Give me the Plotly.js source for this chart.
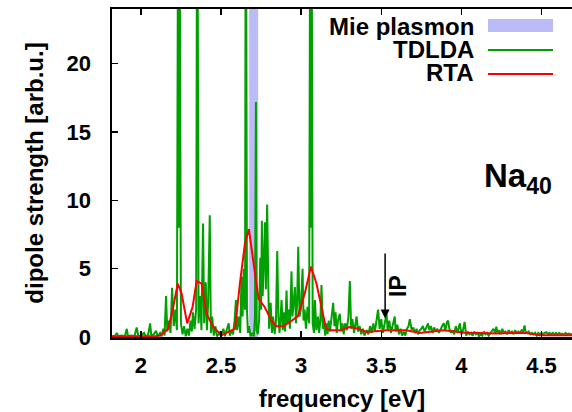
<!DOCTYPE html>
<html>
<head>
<meta charset="utf-8">
<script src="https://cdn.plot.ly/plotly-3.0.1.min.js"></script>
<style>html,body{margin:0;padding:0;background:#fff;}#chart{width:572px;height:412px;}</style>
</head>
<body>
<div id="chart"></div>
<script>
// ---- data ----
const tdldaX = [1.82,1.84,1.85,1.86,1.88,1.90,1.912,1.92,1.94,1.96,1.974,1.985,2.0,2.02,2.03,2.045,2.058,2.065,2.08,2.095,2.105,2.12,2.13,2.14,2.148,2.157,2.165,2.175,2.185,2.195,2.205,2.215,2.225,2.234,2.237,2.240,2.25,2.26,2.27,2.28,2.29,2.30,2.31,2.318,2.325,2.335,2.345,2.352,2.36,2.37,2.378,2.388,2.395,2.405,2.412,2.42,2.43,2.437,2.445,2.455,2.465,2.475,2.49,2.50,2.515,2.525,2.535,2.548,2.555,2.565,2.575,2.585,2.593,2.60,2.61,2.62,2.628,2.635,2.642,2.65,2.655,2.662,2.668,2.675,2.685,2.695,2.705,2.712,2.718,2.722,2.73,2.738,2.745,2.75,2.755,2.76,2.768,2.774,2.78,2.788,2.795,2.80,2.81,2.818,2.825,2.835,2.843,2.851,2.858,2.865,2.872,2.878,2.885,2.893,2.90,2.909,2.915,2.922,2.93,2.94,2.946,2.952,2.961,2.968,2.975,2.982,2.99,2.998,3.009,3.015,3.022,3.03,3.04,3.05,3.058,3.061,3.064,3.072,3.08,3.086,3.095,3.105,3.112,3.12,3.127,3.135,3.142,3.15,3.158,3.165,3.172,3.18,3.19,3.20,3.208,3.215,3.222,3.23,3.241,3.25,3.258,3.265,3.275,3.285,3.295,3.304,3.312,3.32,3.33,3.338,3.346,3.355,3.365,3.375,3.385,3.395,3.41,3.42,3.43,3.44,3.45,3.46,3.47,3.48,3.49,3.50,3.51,3.52,3.533,3.54,3.55,3.56,3.57,3.584,3.59,3.60,3.61,3.62,3.63,3.64,3.65,3.66,3.67,3.678,3.69,3.70,3.71,3.72,3.73,3.74,3.75,3.76,3.77,3.78,3.792,3.80,3.81,3.82,3.83,3.84,3.85,3.86,3.87,3.88,3.89,3.90,3.91,3.917,3.925,3.935,3.945,3.955,3.965,3.975,3.99,4.0,4.01,4.02,4.03,4.04,4.05,4.06,4.07,4.08,4.09,4.10,4.11,4.12,4.13,4.14,4.15,4.16,4.17,4.18,4.19,4.20,4.21,4.218,4.225,4.235,4.245,4.255,4.265,4.275,4.285,4.295,4.305,4.315,4.325,4.335,4.345,4.355,4.365,4.375,4.385,4.394,4.40,4.41,4.42,4.43,4.44,4.45,4.46,4.47,4.48,4.49,4.50,4.51,4.52,4.53,4.54,4.55,4.56,4.57,4.58,4.59,4.60,4.61,4.62,4.63,4.64,4.65,4.66,4.67,4.68,4.69];
const tdldaY = [0.05,0.1,0.3,0.05,0.1,0.05,0.6,0.05,0.1,0.05,0.7,0.05,0.1,0.3,0.05,0.15,1.0,0.1,0.2,0.45,0.05,0.3,0.05,0.6,0.1,3.0,0.4,1.2,0.3,3.6,0.8,2.0,0.5,40,8,40,1.0,0.2,0.8,0.05,0.6,0.1,1.2,0.4,1.8,0.6,2.0,40,1.0,3.0,0.5,8.3,1.0,4.0,0.5,2.5,8.9,0.3,1.5,0.1,0.8,0.05,0.3,0.05,0.6,0.05,0.5,1.0,0.1,0.5,0.2,1.2,2.7,0.5,1.5,0.3,4.4,1.5,5.0,2.0,40,2.0,0.3,0.8,0.05,0.3,0.05,1.5,17.2,0.5,0.2,1.3,5.8,2.0,8.5,3.0,5.8,8.4,3.5,9.7,4.0,0.6,2.5,0.3,1.5,0.2,1.2,6.3,1.5,0.3,1.5,2.7,0.5,1.8,0.4,3.4,1.0,2.0,0.6,4.8,1.5,2.5,3.65,1.0,2.5,6.6,1.5,2.0,5.0,1.2,2.0,0.6,2.2,1.0,40,8,40,1.0,0.3,2.7,0.5,1.5,0.3,1.2,3.8,0.6,1.3,0.1,1.0,0.2,1.2,0.4,1.5,2.5,0.8,1.8,0.3,1.2,1.7,0.4,1.0,0.2,1.0,0.5,1.5,4.1,0.6,1.3,0.3,1.0,1.5,0.4,0.8,0.2,0.6,0.1,0.5,0.2,0.8,0.3,1.0,0.4,1.2,2.0,0.6,1.3,0.3,1.0,1.7,0.5,1.2,0.3,0.8,1.5,0.4,0.9,0.2,0.6,0.1,0.4,0.1,0.6,0.8,1.3,0.5,0.7,0.3,0.6,0.2,0.5,0.6,0.8,0.4,0.7,1.0,0.5,0.8,0.3,0.7,0.4,0.6,0.3,0.6,0.8,1.0,0.5,1.1,1.2,0.6,0.3,0.5,0.2,0.8,0.3,1.0,0.2,0.5,1.1,0.1,0.4,0.2,0.3,0.1,0.4,0.2,0.3,0.05,0.2,0.1,0.4,0.2,0.3,0.1,0.3,0.4,0.6,0.3,0.75,0.3,0.5,0.2,0.6,0.3,0.4,0.2,0.5,0.3,0.4,0.2,0.5,0.3,0.4,0.3,0.5,0.4,0.85,0.4,0.3,0.4,0.2,0.3,0.2,0.3,0.1,0.3,0.2,0.3,0.2,0.3,0.35,0.2,0.3,0.2,0.3,0.2,0.3,0.15,0.3,0.2,0.25,0.15,0.3,0.2,0.25,0.2,0.2];

const rtaX = [1.82,1.90,2.00,2.06,2.10,2.12,2.171,2.202,2.23,2.254,2.289,2.323,2.348,2.379,2.41,2.452,2.504,2.545,2.587,2.618,2.649,2.674,2.705,2.734,2.772,2.816,2.847,2.888,2.93,2.98,3.023,3.061,3.096,3.127,3.156,3.19,3.241,3.304,3.356,3.408,3.47,3.533,3.616,3.657,3.74,3.886,3.948,4.031,4.114,4.218,4.322,4.405,4.488,4.69];
const rtaY = [0.03,0.03,0.04,0.05,0.07,0.1,0.6,2.2,3.9,3.2,1.0,2.2,4.1,3.9,1.7,0.73,0.12,0.37,0.6,3.9,6.8,7.9,5.35,2.8,2.2,1.2,0.78,0.78,1.1,1.53,3.2,5.15,3.9,2.2,0.6,0.49,0.49,0.73,0.6,0.37,0.44,0.49,0.49,0.49,0.3,0.49,0.42,0.3,0.3,0.25,0.3,0.3,0.12,0.12];

const mieBand = [2.676, 2.732];   // Mie plasmon energy window [eV]
const ipEnergy = 3.524;            // ionization potential [eV]
const ipArrow = [7.13, 1.36];      // arrow tail / tip height
const xTicks = [2, 2.5, 3, 3.5, 4, 4.5];
const xTickText = ['2', '2.5', '3', '3.5', '4', '4.5'];
const yTicks = [0, 5, 10, 15, 20];
const yTickText = ['0', '5', '10', '15', '20'];
const legendNames = ['Mie plasmon', 'TDLDA', 'RTA'];

// ---- styling ----
const FONT = 'Liberation Sans, Arial, Helvetica, sans-serif';
const green = '#00a000', red = '#ff0000', band = '#bbbbf8';
const W = 572, H = 412, mL = 112, mR = 0, mT = 9, mB = 75;
const pw = W - mL - mR, ph = H - mT - mB;
const px = v => (v - mL) / pw;          // pixel -> paper x
const py = v => (H - mB - v) / ph;      // pixel -> paper y

const traces = [
  {x: tdldaX, y: tdldaY, type: 'scatter', mode: 'lines', name: legendNames[1],
   line: {color: green, width: 2}, showlegend: false, hoverinfo: 'skip'},
  {x: rtaX, y: rtaY, type: 'scatter', mode: 'lines', name: legendNames[2],
   line: {color: red, width: 2}, showlegend: false, hoverinfo: 'skip'}
];

const bold = (size, color) => ({family: FONT, size: size, color: color || '#000', weight: 'bold'});

const legendRows = [26, 49, 73];
const annotations = [
  {xref: 'x', yref: 'y', axref: 'x', ayref: 'y', x: ipEnergy, y: ipArrow[1], ax: ipEnergy, ay: ipArrow[0],
   text: ' ', showarrow: true, arrowhead: 2, arrowsize: 1.2, arrowwidth: 1.5, arrowcolor: '#000'},
  {xref: 'paper', yref: 'paper', x: px(398), y: py(286), text: 'IP', textangle: -90,
   showarrow: false, font: bold(23), xanchor: 'center', yanchor: 'middle'},
  {xref: 'paper', yref: 'paper', x: px(482), y: py(178), text: 'Na<sub>40</sub>',
   showarrow: false, font: bold(33), xanchor: 'left', yanchor: 'middle'}
];
legendNames.forEach((n, i) => annotations.push({
  xref: 'paper', yref: 'paper', x: px(475), y: py(legendRows[i]), text: n, showarrow: false,
  font: bold(24), xanchor: 'right', yanchor: 'middle', borderpad: 0}));

const shapes = [
  {type: 'rect', xref: 'x', yref: 'paper', x0: mieBand[0], x1: mieBand[1], y0: 0, y1: 1,
   fillcolor: band, line: {width: 0}, layer: 'below'},
  {type: 'rect', xref: 'paper', yref: 'paper', x0: px(488), x1: px(553), y0: py(32), y1: py(19),
   fillcolor: band, line: {width: 0}},
  {type: 'line', xref: 'paper', yref: 'paper', x0: px(488), x1: px(553), y0: py(legendRows[1]+1), y1: py(legendRows[1]+1),
   line: {color: green, width: 2}},
  {type: 'line', xref: 'paper', yref: 'paper', x0: px(488), x1: px(553), y0: py(legendRows[2]+1), y1: py(legendRows[2]+1),
   line: {color: red, width: 2}}
];

const layout = {
  width: W, height: H,
  margin: {l: mL, r: mR, t: mT, b: mB, pad: 0},
  paper_bgcolor: '#fff', plot_bgcolor: '#fff',
  showlegend: false,
  font: bold(22),
  xaxis: {
    range: [1.82, 4.69], tickvals: xTicks, ticktext: xTickText,
    ticks: 'inside', ticklen: 6, tickwidth: 1.5, tickcolor: '#000',
    showline: true, linewidth: 2.5, linecolor: '#000', mirror: 'ticks',
    showgrid: false, zeroline: false, ticklabelstandoff: 7,
    tickfont: bold(22), automargin: false,
    title: {text: 'frequency [eV]', font: bold(24), standoff: 14}
  },
  yaxis: {
    range: [0, 24], tickvals: yTicks, ticktext: yTickText,
    ticks: 'inside', ticklen: 6, tickwidth: 1.5, tickcolor: '#000',
    showline: true, linewidth: 2.5, linecolor: '#000', mirror: false,
    showgrid: false, zeroline: false, ticklabelstandoff: 14,
    tickfont: bold(22), automargin: false,
    title: {text: 'dipole strength [arb.u.]', font: bold(24), standoff: 16}
  },
  shapes: shapes,
  annotations: annotations
};

Plotly.newPlot('chart', traces, layout, {staticPlot: true, displayModeBar: false});
</script>
</body>
</html>
